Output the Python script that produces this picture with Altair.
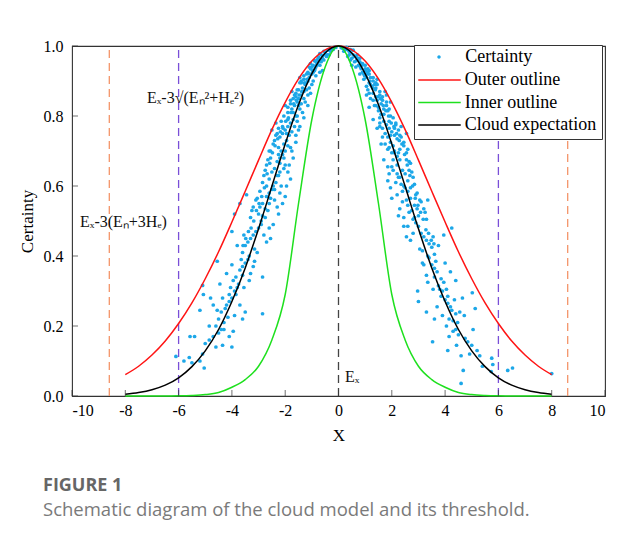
import altair as alt
import pandas as pd

# ---------------- data ----------------
x_grid = [-8.0, -7.5, -7.0, -6.5, -6.0, -5.5, -5.0, -4.5, -4.0, -3.5, -3.0, -2.5, -2.0, -1.5, -1.0, -0.5,
          0.0, 0.5, 1.0, 1.5, 2.0, 2.5, 3.0, 3.5, 4.0, 4.5, 5.0, 5.5, 6.0, 6.5, 7.0, 7.5, 8.0]
outer_v = [0.061, 0.085, 0.117, 0.157, 0.207, 0.266, 0.335, 0.412, 0.497, 0.585, 0.674, 0.761, 0.839, 0.906, 0.957, 0.989,
           1.0, 0.989, 0.957, 0.906, 0.839, 0.761, 0.674, 0.585, 0.497, 0.412, 0.335, 0.266, 0.207, 0.157, 0.117, 0.085, 0.061]
inner_v = [0.0, 0.0, 0.0, 0.0002, 0.0005, 0.0015, 0.004, 0.010, 0.025, 0.047, 0.085, 0.16, 0.29, 0.55, 0.79, 0.94,
           1.0, 0.94, 0.79, 0.55, 0.29, 0.16, 0.085, 0.047, 0.025, 0.010, 0.004, 0.0015, 0.0005, 0.0002, 0.0, 0.0, 0.0]
expect_v = [0.005, 0.010, 0.018, 0.031, 0.052, 0.084, 0.129, 0.190, 0.270, 0.366, 0.478, 0.599, 0.720, 0.832, 0.921, 0.980,
            1.0, 0.980, 0.921, 0.832, 0.720, 0.599, 0.478, 0.366, 0.270, 0.190, 0.129, 0.084, 0.052, 0.031, 0.018, 0.010, 0.005]

drops_left = [
    (-0.1, 0.996), (-0.2, 0.99), (-0.3, 0.985), (-0.35, 0.975), (-0.45, 0.97), (-0.5, 0.982), (-0.55, 0.96),
    (-0.6, 0.965), (-0.65, 0.955), (-0.7, 0.945), (-0.75, 0.968), (-0.8, 0.95), (-0.85, 0.94), (-0.28, 0.992),
    (-0.4, 0.988), (-0.42, 0.975), (-0.9, 0.958), (-0.6, 0.93), (-0.7, 0.925), (-0.95, 0.945),
    (-0.9, 0.93), (-1.0, 0.92), (-1.05, 0.935), (-1.1, 0.91), (-1.15, 0.90), (-1.2, 0.92), (-1.25, 0.89),
    (-1.3, 0.905), (-1.35, 0.88), (-0.95, 0.90), (-1.4, 0.895), (-1.0, 0.89), (-1.2, 0.875), (-0.85, 0.915),
    (-1.45, 0.91),
    (-1.3, 0.87), (-1.4, 0.86), (-1.5, 0.85), (-1.55, 0.84), (-1.6, 0.865), (-1.65, 0.83), (-1.7, 0.85),
    (-1.75, 0.82), (-1.8, 0.835), (-1.45, 0.82), (-1.35, 0.81), (-1.9, 0.81), (-1.6, 0.80), (-1.25, 0.84),
    (-2.0, 0.83), (-1.5, 0.875), (-1.75, 0.87),
    (-1.7, 0.79), (-1.8, 0.78), (-1.9, 0.77), (-2.0, 0.76), (-2.1, 0.75), (-2.2, 0.74), (-1.95, 0.73),
    (-2.05, 0.72), (-2.25, 0.71), (-1.8, 0.71), (-1.6, 0.745), (-2.35, 0.78), (-2.4, 0.73), (-1.75, 0.70),
    (-2.15, 0.70), (-1.5, 0.76), (-2.5, 0.76),
    (-2.1, 0.69), (-2.2, 0.68), (-2.3, 0.67), (-2.0, 0.66), (-2.4, 0.65), (-2.5, 0.64), (-2.25, 0.63),
    (-2.6, 0.62), (-2.35, 0.61), (-1.9, 0.64), (-2.7, 0.66), (-2.15, 0.60), (-2.55, 0.68), (-1.8, 0.62),
    (-2.8, 0.63), (-2.45, 0.60),
    (-2.5, 0.59), (-2.6, 0.58), (-2.7, 0.57), (-2.4, 0.56), (-2.85, 0.55), (-2.95, 0.54), (-2.65, 0.53),
    (-3.0, 0.52), (-2.3, 0.54), (-3.1, 0.56), (-2.75, 0.51), (-2.2, 0.58), (-3.25, 0.53), (-2.9, 0.50),
    (-2.1, 0.55), (-3.45, 0.575), (-3.9, 0.52), (-3.7, 0.55),
    (-2.9, 0.49), (-3.0, 0.48), (-3.1, 0.47), (-3.2, 0.46), (-3.3, 0.45), (-2.8, 0.46), (-3.4, 0.44),
    (-3.5, 0.43), (-3.15, 0.42), (-3.6, 0.41), (-3.35, 0.40), (-2.7, 0.44), (-3.8, 0.43), (-4.55, 0.385),
    (-3.05, 0.41), (-2.6, 0.48), (-4.0, 0.47),
    (-3.4, 0.39), (-3.5, 0.38), (-3.6, 0.37), (-3.7, 0.36), (-3.3, 0.35), (-3.85, 0.34), (-3.95, 0.33),
    (-3.75, 0.32), (-4.05, 0.31), (-3.55, 0.31), (-4.2, 0.35), (-3.2, 0.37), (-2.85, 0.34), (-4.0, 0.375),
    (-3.9, 0.30), (-5.1, 0.316), (-4.45, 0.32),
    (-3.85, 0.29), (-4.0, 0.28), (-4.1, 0.27), (-3.7, 0.26), (-4.25, 0.25), (-4.4, 0.24), (-3.9, 0.23),
    (-4.5, 0.22), (-4.3, 0.21), (-3.6, 0.22), (-4.7, 0.26), (-4.8, 0.28), (-3.5, 0.24), (-2.85, 0.235),
    (-4.6, 0.20), (-5.07, 0.29), (-5.2, 0.245),
    (-4.4, 0.19), (-4.5, 0.18), (-4.7, 0.17), (-4.1, 0.17), (-4.85, 0.16), (-5.0, 0.15), (-4.6, 0.14),
    (-5.4, 0.17), (-5.57, 0.17), (-4.35, 0.145), (-5.1, 0.12), (-5.6, 0.11), (-4.0, 0.14), (-5.2, 0.10),
    (-6.1, 0.113), (-3.95, 0.185),
    (-5.04, 0.08), (-5.8, 0.10), (-5.5, 0.095),
    (-1.1, 0.88), (-1.3, 0.85), (-1.5, 0.83), (-1.7, 0.81), (-1.9, 0.79), (-2.1, 0.77), (-2.3, 0.75),
    (-1.4, 0.90), (-1.05, 0.95), (-0.7, 0.978), (-1.15, 0.86), (-1.95, 0.75), (-2.25, 0.69), (-2.05, 0.65),
    (-2.6, 0.70), (-1.65, 0.77), (-1.1, 0.94), (-0.78, 0.962),
    (-0.55, 0.985), (-0.65, 0.975), (-0.85, 0.955), (-1.0, 0.94), (-1.15, 0.925), (-1.3, 0.915), (-1.45, 0.895),
    (-1.55, 0.875), (-1.65, 0.86), (-1.8, 0.845), (-1.9, 0.825), (-2.05, 0.80), (-2.15, 0.785), (-2.25, 0.765),
    (-2.35, 0.745), (-2.45, 0.72), (-2.55, 0.70), (-2.65, 0.675), (-2.75, 0.645), (-2.85, 0.61), (-2.95, 0.585),
    (-3.05, 0.565), (-3.2, 0.54), (-3.3, 0.51), (-1.05, 0.865), (-1.15, 0.83), (-1.3, 0.795), (-1.45, 0.77),
    (-1.6, 0.725), (-1.7, 0.68), (-1.85, 0.66), (-1.95, 0.60), (-2.0, 0.57), (-2.25, 0.52), (-2.45, 0.49),
    (-2.55, 0.45), (-1.4, 0.835), (-1.55, 0.80), (-1.85, 0.745), (-2.0, 0.70), (-2.3, 0.63), (-2.6, 0.55),
    (-2.7, 0.60), (-1.2, 0.895), (-0.95, 0.925), (-1.6, 0.855), (-2.2, 0.665), (-2.85, 0.515), (-3.55, 0.46),
    (-3.65, 0.39), (-3.15, 0.385), (-3.35, 0.33), (-4.35, 0.28), (-4.15, 0.225), (-4.85, 0.20),
    (-0.15, 0.997), (-0.25, 0.994), (-0.33, 0.99), (-0.5, 0.975), (-0.6, 0.972), (-0.68, 0.962), (-0.75, 0.955),
    (-0.82, 0.945), (-0.88, 0.935), (-0.98, 0.93), (-1.08, 0.92), (-1.18, 0.905), (-1.28, 0.895), (-1.38, 0.87),
    (-1.48, 0.86), (-1.58, 0.845), (-1.68, 0.835), (-1.78, 0.81), (-1.88, 0.795), (-1.98, 0.785), (-2.08, 0.765),
    (-2.18, 0.755), (-2.28, 0.735), (-2.38, 0.715), (-2.48, 0.695), (-2.58, 0.665), (-2.68, 0.635), (-2.78, 0.595),
    (-2.88, 0.57), (-2.98, 0.55), (-3.08, 0.53), (-3.18, 0.50), (-3.28, 0.48), (-3.38, 0.47), (-3.48, 0.45),
    (-3.58, 0.43), (-1.55, 0.785), (-1.75, 0.755), (-1.9, 0.715), (-2.05, 0.68), (-2.2, 0.64), (-2.4, 0.59),
    (-2.55, 0.565), (-2.75, 0.535), (-3.6, 0.345), (-3.8, 0.31), (-4.1, 0.29), (-4.2, 0.26), (-4.55, 0.245),
    (-4.3, 0.19),
]

drops_right = [
    (0.1, 0.995), (0.2, 0.985), (0.3, 0.99), (0.35, 0.97), (0.45, 0.98), (0.5, 0.965), (0.55, 0.975),
    (0.6, 0.955), (0.7, 0.96), (0.75, 0.945), (0.8, 0.955), (0.4, 0.985), (0.45, 0.96), (0.65, 0.94),
    (0.9, 0.95), (0.25, 0.99), (0.85, 0.935), (0.5, 0.945),
    (0.9, 0.925), (1.0, 0.93), (1.05, 0.91), (1.1, 0.92), (1.15, 0.895), (1.2, 0.91), (1.25, 0.885),
    (1.3, 0.90), (1.35, 0.89), (0.95, 0.905), (1.4, 0.88), (1.05, 0.885), (0.8, 0.92), (1.45, 0.905),
    (1.15, 0.93),
    (1.3, 0.865), (1.4, 0.855), (1.45, 0.845), (1.55, 0.86), (1.6, 0.835), (1.65, 0.845), (1.7, 0.82),
    (1.8, 0.83), (1.85, 0.815), (1.5, 0.815), (1.35, 0.83), (1.95, 0.80), (1.6, 0.805), (1.2, 0.85),
    (1.95, 0.84), (1.75, 0.87), (1.8, 0.86),
    (1.7, 0.785), (1.8, 0.775), (1.9, 0.765), (2.0, 0.755), (2.1, 0.745), (2.2, 0.735), (1.95, 0.725),
    (2.05, 0.715), (2.3, 0.705), (1.85, 0.705), (1.65, 0.74), (2.35, 0.77), (2.45, 0.725), (1.75, 0.72),
    (2.15, 0.775), (1.55, 0.77), (2.55, 0.75), (2.1, 0.70),
    (2.1, 0.695), (2.2, 0.685), (2.3, 0.675), (2.0, 0.655), (2.4, 0.645), (2.5, 0.635), (2.25, 0.625),
    (2.6, 0.615), (2.35, 0.605), (1.9, 0.635), (2.7, 0.665), (2.15, 0.61), (2.55, 0.675), (1.85, 0.615),
    (2.8, 0.625), (2.45, 0.60), (2.65, 0.645),
    (2.5, 0.595), (2.6, 0.585), (2.7, 0.565), (2.4, 0.555), (2.85, 0.545), (2.95, 0.535), (2.65, 0.525),
    (3.0, 0.515), (2.3, 0.535), (3.1, 0.555), (2.8, 0.505), (2.2, 0.575), (3.25, 0.525), (2.9, 0.575),
    (2.45, 0.51), (3.35, 0.56),
    (2.9, 0.495), (3.0, 0.485), (3.1, 0.465), (3.2, 0.455), (3.3, 0.445), (2.8, 0.465), (3.4, 0.435),
    (3.5, 0.425), (3.15, 0.415), (3.6, 0.405), (3.35, 0.40), (2.7, 0.445), (3.75, 0.43), (4.25, 0.48),
    (3.05, 0.42), (2.6, 0.485), (3.95, 0.46),
    (3.4, 0.395), (3.5, 0.375), (3.6, 0.365), (3.7, 0.355), (3.3, 0.345), (3.85, 0.335), (3.95, 0.325),
    (3.75, 0.315), (4.05, 0.305), (3.55, 0.305), (4.2, 0.355), (3.2, 0.375), (2.97, 0.30), (4.0, 0.38),
    (3.9, 0.30), (4.4, 0.33),
    (3.85, 0.285), (4.0, 0.275), (4.1, 0.265), (3.7, 0.255), (4.25, 0.245), (4.4, 0.235), (3.9, 0.23),
    (4.47, 0.21), (4.3, 0.215), (3.3, 0.24), (3.0, 0.27), (5.02, 0.295), (5.13, 0.25), (4.72, 0.23),
    (4.65, 0.28), (3.6, 0.22),
    (4.4, 0.19), (4.5, 0.175), (4.75, 0.165), (4.15, 0.17), (4.85, 0.155), (5.0, 0.145), (4.43, 0.145),
    (3.53, 0.155), (4.92, 0.12), (5.2, 0.13), (5.75, 0.108), (4.1, 0.13), (5.3, 0.115), (4.6, 0.115),
    (5.05, 0.19),
    (5.79, 0.09), (6.35, 0.073), (6.53, 0.08), (5.73, 0.07), (8.0, 0.064), (4.68, 0.073), (4.6, 0.036),
    (5.4, 0.085),
    (1.1, 0.875), (1.3, 0.845), (1.5, 0.825), (1.7, 0.805), (1.9, 0.785), (2.1, 0.765), (2.3, 0.745),
    (1.4, 0.895), (1.0, 0.945), (0.7, 0.975), (1.15, 0.865), (1.95, 0.745), (2.25, 0.695), (2.05, 0.645),
    (2.6, 0.705), (1.65, 0.765), (1.1, 0.935), (0.8, 0.965),
    (0.55, 0.988), (0.65, 0.97), (0.85, 0.95), (1.0, 0.935), (1.15, 0.92), (1.3, 0.91), (1.45, 0.89),
    (1.55, 0.87), (1.65, 0.855), (1.8, 0.84), (1.9, 0.82), (2.05, 0.795), (2.15, 0.78), (2.25, 0.76),
    (2.35, 0.74), (2.45, 0.715), (2.55, 0.695), (2.65, 0.67), (2.75, 0.64), (2.85, 0.605), (2.95, 0.58),
    (3.05, 0.56), (3.2, 0.535), (3.3, 0.505), (1.05, 0.86), (1.15, 0.825), (1.3, 0.79), (1.45, 0.765),
    (1.6, 0.72), (1.7, 0.675), (1.85, 0.655), (1.95, 0.595), (2.0, 0.565), (2.25, 0.515), (2.45, 0.485),
    (2.55, 0.455), (1.4, 0.83), (1.55, 0.795), (1.85, 0.74), (2.0, 0.695), (2.3, 0.625), (2.6, 0.545),
    (2.7, 0.595), (1.2, 0.89), (0.95, 0.92), (1.6, 0.85), (2.2, 0.66), (2.85, 0.51), (3.55, 0.455),
    (3.65, 0.385), (3.15, 0.38), (3.35, 0.325), (4.35, 0.275), (4.15, 0.22), (4.05, 0.20),
    (0.15, 0.994), (0.3, 0.996), (0.4, 0.975), (0.45, 0.99), (0.6, 0.97), (0.68, 0.958), (0.75, 0.965),
    (0.82, 0.94), (0.88, 0.945), (0.98, 0.915), (1.08, 0.925), (1.18, 0.90), (1.28, 0.88), (1.38, 0.875),
    (1.48, 0.855), (1.58, 0.85), (1.68, 0.83), (1.78, 0.815), (1.88, 0.80), (1.98, 0.78), (2.08, 0.77),
    (2.18, 0.75), (2.28, 0.73), (2.38, 0.72), (2.48, 0.69), (2.58, 0.66), (2.68, 0.63), (2.78, 0.60),
    (2.88, 0.565), (2.98, 0.545), (3.08, 0.525), (3.18, 0.505), (3.28, 0.475), (3.38, 0.465), (3.48, 0.445),
    (3.58, 0.435), (1.55, 0.78), (1.75, 0.75), (1.9, 0.71), (2.05, 0.675), (2.2, 0.635), (2.4, 0.585),
    (2.55, 0.56), (2.75, 0.53), (3.6, 0.34), (3.8, 0.305), (4.1, 0.285), (4.2, 0.255), (4.55, 0.24),
    (4.3, 0.185),
]

thr_outer = [-8.6, 8.6]      # Ex -/+ 3(En + 3He)
thr_mid = [-6.0, 6.0]        # Ex -/+ 3 sqrt(En^2 + He^2)
thr_ex = [0.0]               # Ex

x_ticks = [-10, -8, -6, -4, -2, 0, 2, 4, 6, 8, 10]
y_ticks = [0.0, 0.2, 0.4, 0.6, 0.8, 1.0]

drop_name = ["Certainty"]
drop_color = ["#1CA7E8"]
line_names = ["Outer outline", "Inner outline", "Cloud expectation"]
line_colors = ["#FF1414", "#1EE01E", "#000000"]

ann_text = ["E\u2093-3\u221a(E\u2099\u00b2+H\u2091\u00b2)", "E\u2093-3(E\u2099+3H\u2091)", "E\u2093"]
ann_x = [-7.19, -9.7, 0.24]
ann_y = [0.851, 0.496, 0.053]

# ---------------- tables ----------------
curves = pd.concat([
    pd.DataFrame({"x": x_grid, "v": outer_v, "series": line_names[0]}),
    pd.DataFrame({"x": x_grid, "v": inner_v, "series": line_names[1]}),
    pd.DataFrame({"x": x_grid, "v": expect_v, "series": line_names[2]}),
], ignore_index=True)

drop_pts = drops_left + drops_right
drops = pd.DataFrame({"x": [p[0] for p in drop_pts], "v": [p[1] for p in drop_pts], "series": drop_name[0]})

SERIF = "Liberation Serif"
xs = alt.Scale(domain=[-10, 10], nice=False, zero=False)
ys = alt.Scale(domain=[0, 1], nice=False, zero=False)

# legend for the lines: framed box; its blank title reserves the first row
line_legend = alt.Legend(
    title=" ", titleFontSize=17, titlePadding=3.5,
    orient="none", legendX=342, legendY=-1, zindex=1,
    fillColor="white", strokeColor="#333333", padding=5, rowPadding=3.5,
    labelFont=SERIF, labelFontSize=18, labelColor="black", labelOffset=15.75,
    symbolType="M-2.5,0H2.5", symbolSize=289, symbolOffset=11, symbolStrokeWidth=1.6,
)
# legend for the drops: sits in the reserved first row, same geometry
drop_legend = alt.Legend(
    title=None, orient="none", legendX=342, legendY=-3, zindex=2, padding=5,
    labelFont=SERIF, labelFontSize=18, labelColor="black", labelOffset=17.3,
    symbolType="M0,-0.2A0.2,0.2 0 1,1 0,0.2A0.2,0.2 0 1,1 0,-0.2Z",
    symbolSize=289, symbolOffset=11, symbolStrokeWidth=0, symbolOpacity=1,
)

xax = alt.Axis(values=x_ticks, title="X", ticks=False, domain=False, grid=False,
               labelExpr="'' + datum.value", labelPadding=6, titlePadding=9)
yax = alt.Axis(values=y_ticks, format=".1f", title="Certainty", ticks=False, domain=False,
               grid=False, labelPadding=9, titlePadding=7)

dots = alt.Chart(drops).mark_point(filled=True, size=14, opacity=1).encode(
    x=alt.X("x:Q", scale=xs, axis=xax),
    y=alt.Y("v:Q", scale=ys, axis=yax),
    fill=alt.Fill("series:N", scale=alt.Scale(domain=drop_name, range=drop_color), legend=drop_legend),
)

lines = alt.Chart(curves).mark_line(strokeWidth=1.5, interpolate="monotone").encode(
    x="x:Q", y="v:Q",
    stroke=alt.Stroke("series:N", scale=alt.Scale(domain=line_names, range=line_colors), legend=line_legend),
)

def vrules(vals, color):
    return alt.Chart(pd.DataFrame({"x": vals})).mark_rule(
        color=color, strokeWidth=1.3, strokeDash=[8, 5]).encode(
        x="x:Q", y=alt.datum(0), y2=alt.datum(1))

r_outer = vrules(thr_outer, "#F4956A")
r_mid = vrules(thr_mid, "#7A4FD8")
r_ex = vrules(thr_ex, "#444444")

xt = alt.Chart(pd.DataFrame({"t": x_ticks})).mark_tick(
    orient="vertical", size=6, thickness=1, color="#333333", yOffset=-3).encode(
    x="t:Q", y=alt.datum(0))
yt = alt.Chart(pd.DataFrame({"t": y_ticks})).mark_tick(
    orient="horizontal", size=6, thickness=1, color="#333333", xOffset=3).encode(
    y="t:Q", x=alt.datum(-10))

ann = alt.Chart(pd.DataFrame({"x": ann_x, "v": ann_y, "t": ann_text})).mark_text(
    align="left", baseline="middle", font=SERIF, fontSize=16, color="#111111").encode(
    x="x:Q", y="v:Q", text="t:N")

chart = alt.layer(dots, r_outer, r_mid, r_ex, lines, xt, yt, ann).resolve_legend(
    fill="independent", stroke="independent"
).properties(
    width=533, height=350,
    background="white",
    padding={"left": 64, "top": 38, "right": 8, "bottom": 139},
    autosize=alt.AutoSizeParams(type="none"),
    title=alt.Title(
        "FIGURE 1",
        subtitle="Schematic diagram of the cloud model and its threshold.",
        orient="bottom", anchor="start", frame="group", dx=-29, offset=34,
        font="Open Sans", fontSize=18, fontWeight="bold", color="#666666",
        subtitleFont="Open Sans", subtitleFontSize=18.5, subtitleColor="#7a7a7a",
        subtitleFontWeight="normal", subtitlePadding=6,
    ),
).configure_view(stroke="#333333", strokeWidth=1.1).configure_axis(
    labelFont=SERIF, labelFontSize=16, labelColor="black",
    titleFont=SERIF, titleFontSize=17, titleFontWeight="normal", titleColor="black",
)

chart.save("out.html", embed_options={"renderer": "svg", "actions": False})
